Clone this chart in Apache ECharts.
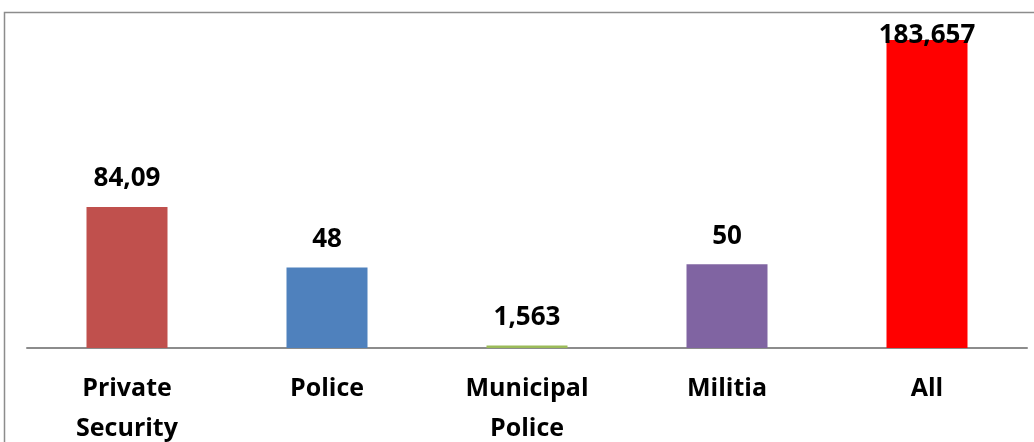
<!DOCTYPE html>
<html><head><meta charset="utf-8">
<script src="https://cdn.jsdelivr.net/npm/echarts@6/dist/echarts.min.js"></script>
<style>html,body{margin:0;padding:0;background:#fff;overflow:hidden}#c{width:1034px;height:442px}</style>
</head><body><div id="c"></div>
<script>
var categories = ['Private\nSecurity', 'Police', 'Municipal\nPolice', 'Militia', 'All'];
var values = [84.09, 48, 1.563, 50, 183.657];
var valueLabels = ['84,09', '48', '1,563', '50', '183,657'];
var colors = ['#c0504d', '#4f81bd', '#9bbb59', '#8064a2', '#ff0000'];

var chart = echarts.init(document.getElementById('c'));
var FONT = '"Open Sans", sans-serif';
chart.setOption({
  animation: false,
  grid: { left: 27, right: 7, top: 40, bottom: 94, containLabel: false, outerBoundsMode: 'none' },
  graphic: [{ type: 'rect', shape: { x: 4.5, y: 12.5, width: 1100, height: 600 },
    style: { fill: 'none', stroke: '#8c8c8c', lineWidth: 1.5 }, silent: true }],
  xAxis: {
    type: 'category', data: categories,
    axisLine: { lineStyle: { color: '#8c8c8c', width: 2 } },
    axisTick: { show: false },
    axisLabel: { color: '#000', fontFamily: FONT, fontWeight: 'bold', fontSize: 25, lineHeight: 40, margin: 21, interval: 0 }
  },
  yAxis: { type: 'value', min: 0, max: 183.657, show: false, splitLine: { show: false } },
  series: [{
    type: 'bar', barWidth: 81,
    data: values.map(function (v, i) {
      var d = { value: v, itemStyle: { color: colors[i] } };
      if (i === values.length - 1) d.label = { distance: -11 };
      return d;
    }),
    label: {
      show: true, position: 'top', distance: 13, color: '#000', fontFamily: FONT, fontWeight: 'bold', fontSize: 26, lineHeight: 30,
      formatter: function (p) { return valueLabels[p.dataIndex]; }
    }
  }]
});
</script></body></html>
